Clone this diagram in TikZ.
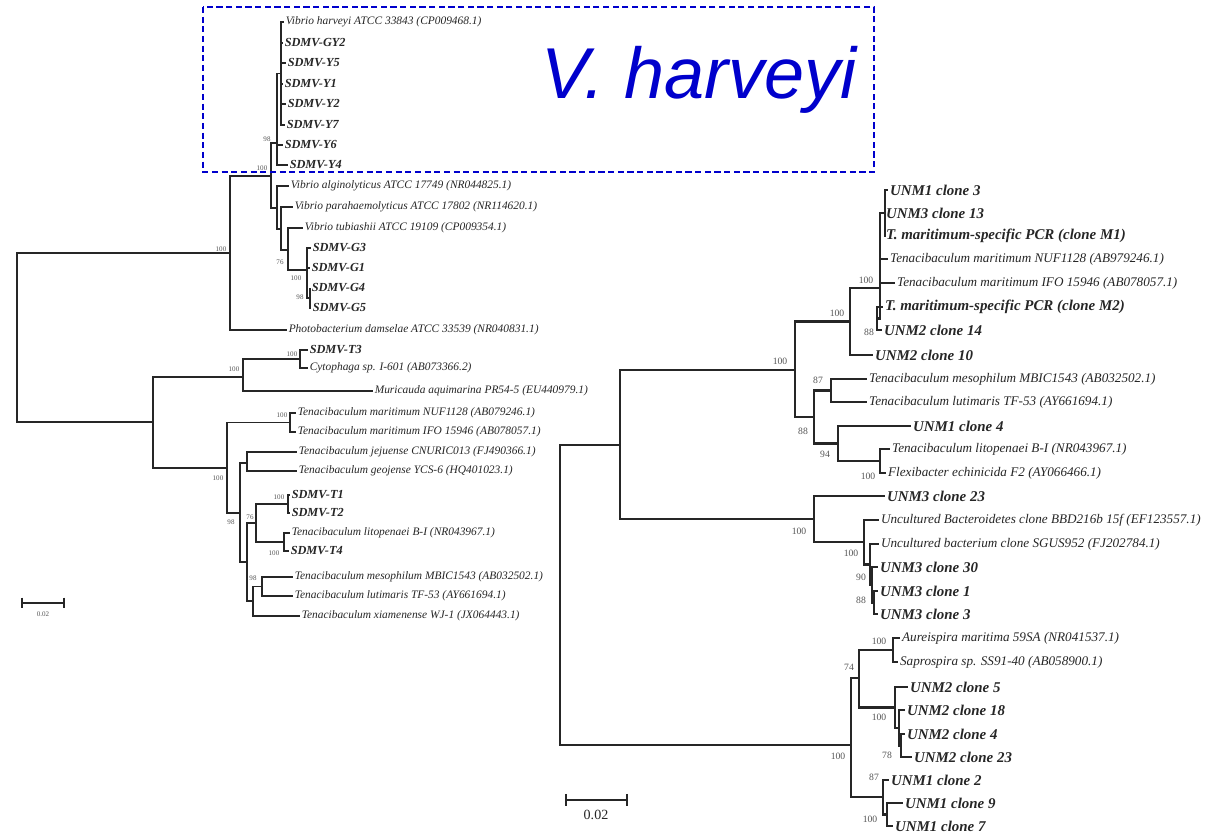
\documentclass[tikz,border=0pt]{standalone}
\usepackage{fontspec}
\setmainfont{Liberation Serif}
\newfontfamily\harvfont{Liberation Sans}
\usetikzlibrary{positioning}
\definecolor{Ink}{HTML}{262626}
\definecolor{Boot}{HTML}{555555}
\definecolor{HarvBlue}{HTML}{0000CC}

\tikzset{
  branch/.style={draw=Ink,line width=1pt},
  rbranch/.style={draw=Ink,line width=1.4pt},
  leaf/.style={anchor=west,inner sep=0.8pt,text=Ink,font=\fontsize{6.5}{7}\selectfont\itshape},
  leafb/.style={leaf,font=\fontsize{7}{8}\selectfont\bfseries\itshape},
  rleaf/.style={anchor=west,inner sep=1pt,text=Ink,font=\fontsize{7.5}{8}\selectfont\itshape},
  rleafb/.style={rleaf,font=\fontsize{8.5}{9}\selectfont\bfseries\itshape},
  boot/.style={inner sep=0pt,text=Boot,font=\fontsize{4}{4}\selectfont},
  rboot/.style={inner sep=0pt,text=Boot,font=\fontsize{5.5}{6}\selectfont},
  vbox/.style={draw=HarvBlue,line width=1.1pt,dash pattern=on 3.5pt off 2pt}
}

\begin{document}
\begin{tikzpicture}[x=0.02cm,y=-0.02cm]
  \fill[white] (0,0) rectangle (1226,835);
  \useasboundingbox (0,0) rectangle (1226,835);

  % ---- left tree: leaves
  \node[leaf]  (lh)    at (284,22)  {Vibrio harveyi ATCC 33843 (CP009468.1)};
  \node[leafb] (lgy2)  at (283,43)  {SDMV-GY2};
  \node[leafb] (ly5)   at (286,63)  {SDMV-Y5};
  \node[leafb] (ly1)   at (283,84)  {SDMV-Y1};
  \node[leafb] (ly2)   at (286,104) {SDMV-Y2};
  \node[leafb] (ly7)   at (285,125) {SDMV-Y7};
  \node[leafb] (ly6)   at (283,145) {SDMV-Y6};
  \node[leafb] (ly4)   at (288,165) {SDMV-Y4};
  \node[leaf]  (lalg)  at (289,186) {Vibrio alginolyticus ATCC 17749 (NR044825.1)};
  \node[leaf]  (lpara) at (293,207) {Vibrio parahaemolyticus ATCC 17802 (NR114620.1)};
  \node[leaf]  (ltub)  at (303,228) {Vibrio tubiashii ATCC 19109 (CP009354.1)};
  \node[leafb] (lg3)   at (311,248) {SDMV-G3};
  \node[leafb] (lg1)   at (310,268) {SDMV-G1};
  \node[leafb] (lg4)   at (310,288) {SDMV-G4};
  \node[leafb] (lg5)   at (311,308) {SDMV-G5};
  \node[leaf]  (lpho)  at (287,330) {Photobacterium damselae ATCC 33539 (NR040831.1)};
  \node[leafb] (lt3)   at (308,350) {SDMV-T3};
  \node[leaf]  (lcyt)  at (308,368) {Cytophaga sp. I-601 (AB073366.2)};
  \node[leaf]  (lmur)  at (373,391) {Muricauda aquimarina PR54-5 (EU440979.1)};
  \node[leaf]  (ltm1)  at (296,413) {Tenacibaculum maritimum NUF1128 (AB079246.1)};
  \node[leaf]  (ltm2)  at (296,432) {Tenacibaculum maritimum IFO 15946 (AB078057.1)};
  \node[leaf]  (ljej)  at (297,452) {Tenacibaculum jejuense CNURIC013 (FJ490366.1)};
  \node[leaf]  (lgeo)  at (297,471) {Tenacibaculum geojense YCS-6 (HQ401023.1)};
  \node[leafb] (lt1)   at (290,495) {SDMV-T1};
  \node[leafb] (lt2)   at (290,513) {SDMV-T2};
  \node[leaf]  (llit)  at (290,533) {Tenacibaculum litopenaei B-I (NR043967.1)};
  \node[leafb] (lt4)   at (289,551) {SDMV-T4};
  \node[leaf]  (lmes)  at (293,577) {Tenacibaculum mesophilum MBIC1543 (AB032502.1)};
  \node[leaf]  (llut)  at (293,596) {Tenacibaculum lutimaris TF-53 (AY661694.1)};
  \node[leaf]  (lxia)  at (300,616) {Tenacibaculum xiamenense WJ-1 (JX064443.1)};

  % ---- left tree: inner nodes
  \coordinate (hu)   at (281,73.5);
  \coordinate (hc)   at (277,143);
  \coordinate (vib)  at (271,176);
  \coordinate (alg)  at (277,208);
  \coordinate (para) at (281,229);
  \coordinate (tub)  at (288,250);
  \coordinate (gg)   at (307,270);
  \coordinate (g45)  at (310,298);
  \coordinate (aa)   at (230,253);
  \coordinate (lroot) at (17,337.5);
  \coordinate (cc)   at (153,422);
  \coordinate (dd)   at (243,377);
  \coordinate (ee)   at (300,359);
  \coordinate (ff)   at (227,468);
  \coordinate (gm)   at (290,422.5);
  \coordinate (hh)   at (240,513);
  \coordinate (ii)   at (247,463);
  \coordinate (kk)   at (247,562);
  \coordinate (ll)   at (256,523);
  \coordinate (mm)   at (288,504);
  \coordinate (nn)   at (284,542);
  \coordinate (oo)   at (253,601);
  \coordinate (pp)   at (262,586.5);

  \foreach \p/\c in {hu/lh,hu/lgy2,hu/ly5,hu/ly1,hu/ly2,hu/ly7,hc/ly6,hc/ly4,
      alg/lalg,para/lpara,tub/ltub,gg/lg3,gg/lg1,g45/lg4,g45/lg5,aa/lpho,
      ee/lt3,ee/lcyt,dd/lmur,gm/ltm1,gm/ltm2,ii/ljej,ii/lgeo,mm/lt1,mm/lt2,
      nn/llit,nn/lt4,pp/lmes,pp/llut,oo/lxia}
    \draw[branch] (\p) |- (\c.west);
  \foreach \p/\c in {hc/hu,vib/hc,vib/alg,alg/para,para/tub,tub/gg,gg/g45,
      aa/vib,lroot/aa,lroot/cc,cc/dd,dd/ee,cc/ff,ff/gm,ff/hh,hh/ii,hh/kk,
      kk/ll,kk/oo,ll/mm,ll/nn,oo/pp}
    \draw[branch] (\p) |- (\c);

  % bootstrap values
  \node[boot] (bl1)  at (221,249) {100};
  \node[boot] (bl2)  at (262,168) {100};
  \node[boot] (bl3)  at (267,139) {98};
  \node[boot] (bl4)  at (280,262) {76};
  \node[boot] (bl5)  at (296,278) {100};
  \node[boot] (bl6)  at (300,297) {98};
  \node[boot] (bl7)  at (234,369) {100};
  \node[boot] (bl8)  at (292,354) {100};
  \node[boot] (bl9)  at (282,415) {100};
  \node[boot] (bl10) at (218,478) {100};
  \node[boot] (bl11) at (231,522) {98};
  \node[boot] (bl12) at (250,517) {76};
  \node[boot] (bl13) at (279,497) {100};
  \node[boot] (bl14) at (274,553) {100};
  \node[boot] (bl15) at (253,578) {98};

  % scale bar
  \coordinate (lsb0) at (22,603);
  \coordinate (lsb1) at (64,603);
  \draw[branch] (lsb0) -- (lsb1);
  \draw[branch] ([yshift=3pt]lsb0) -- ([yshift=-3pt]lsb0);
  \draw[branch] ([yshift=3pt]lsb1) -- ([yshift=-3pt]lsb1);
  \node[boot] (lsbt) at (43,614) {0.02};

  % V. harveyi frame
  \draw[vbox] (203,7) rectangle (874,172);
  \node[text=HarvBlue,font=\harvfont\itshape\fontsize{41}{45}\selectfont] (harv) at (699,80) {V. harveyi};

  % ---- right tree: leaves
  \node[rleafb] (r1)  at (888,190) {UNM1 clone 3};
  \node[rleafb] (r2)  at (884,213) {UNM3 clone 13};
  \node[rleafb] (r3)  at (884,236) {T. maritimum-specific PCR (clone M1)};
  \node[rleaf]  (r4)  at (888,259) {Tenacibaculum maritimum NUF1128 (AB979246.1)};
  \node[rleaf]  (r5)  at (895,283) {Tenacibaculum maritimum IFO 15946 (AB078057.1)};
  \node[rleafb] (r6)  at (883,307) {T. maritimum-specific PCR (clone M2)};
  \node[rleafb] (r7)  at (882,330) {UNM2 clone 14};
  \node[rleafb] (r8)  at (873,355) {UNM2 clone 10};
  \node[rleaf]  (r9)  at (867,379) {Tenacibaculum mesophilum MBIC1543 (AB032502.1)};
  \node[rleaf]  (r10) at (867,402) {Tenacibaculum lutimaris TF-53 (AY661694.1)};
  \node[rleafb] (r11) at (911,426) {UNM1 clone 4};
  \node[rleaf]  (r12) at (890,449) {Tenacibaculum litopenaei B-I (NR043967.1)};
  \node[rleaf]  (r13) at (886,473) {Flexibacter echinicida F2 (AY066466.1)};
  \node[rleafb] (r14) at (885,496) {UNM3 clone 23};
  \node[rleaf]  (r15) at (879,520) {Uncultured Bacteroidetes clone BBD216b 15f (EF123557.1)};
  \node[rleaf]  (r16) at (879,544) {Uncultured bacterium clone SGUS952 (FJ202784.1)};
  \node[rleafb] (r17) at (878,567) {UNM3 clone 30};
  \node[rleafb] (r18) at (878,591) {UNM3 clone 1};
  \node[rleafb] (r19) at (878,614) {UNM3 clone 3};
  \node[rleaf]  (r20) at (900,638) {Aureispira maritima 59SA (NR041537.1)};
  \node[rleaf]  (r21) at (898,662) {Saprospira sp. SS91-40 (AB058900.1)};
  \node[rleafb] (r22) at (908,687) {UNM2 clone 5};
  \node[rleafb] (r23) at (905,710) {UNM2 clone 18};
  \node[rleafb] (r24) at (905,734) {UNM2 clone 4};
  \node[rleafb] (r25) at (912,757) {UNM2 clone 23};
  \node[rleafb] (r26) at (889,780) {UNM1 clone 2};
  \node[rleafb] (r27) at (903,803) {UNM1 clone 9};
  \node[rleafb] (r28) at (893,826) {UNM1 clone 7};

  % ---- right tree: inner nodes
  \coordinate (t1)  at (885,213);
  \coordinate (tp)  at (877,318.5);
  \coordinate (tt)  at (880,288);
  \coordinate (ss)  at (850,321.5);
  \coordinate (qq)  at (831,390.5);
  \coordinate (fo)  at (880,461);
  \coordinate (fp)  at (838,443.5);
  \coordinate (r2b) at (814,417);
  \coordinate (r2n) at (795,370);
  \coordinate (y3)  at (874,602.5);
  \coordinate (y2)  at (872,585);
  \coordinate (y1)  at (870,564.5);
  \coordinate (bv)  at (864,542);
  \coordinate (bu)  at (814,519);
  \coordinate (r1n) at (620,445);
  \coordinate (as)  at (893,650);
  \coordinate (u2c) at (901,745.5);
  \coordinate (u2b) at (899,728);
  \coordinate (u2)  at (895,707.5);
  \coordinate (z1)  at (859,678);
  \coordinate (z2b) at (887,814.5);
  \coordinate (z2)  at (883,797);
  \coordinate (zz)  at (851,745);
  \coordinate (rroot) at (560,595);

  \foreach \p/\c in {t1/r1,t1/r2,t1/r3,tt/r4,tt/r5,tp/r6,tp/r7,ss/r8,qq/r9,qq/r10,
      fp/r11,fo/r12,fo/r13,bu/r14,bv/r15,y1/r16,y2/r17,y3/r18,y3/r19,
      as/r20,as/r21,u2/r22,u2b/r23,u2c/r24,u2c/r25,z2/r26,z2b/r27,z2b/r28}
    \draw[rbranch] (\p) |- (\c.west);
  \foreach \p/\c in {tt/t1,tt/tp,ss/tt,r2n/ss,r2n/r2b,r2b/qq,r2b/fp,fp/fo,
      r1n/r2n,r1n/bu,bu/bv,bv/y1,y1/y2,y2/y3,rroot/r1n,rroot/zz,
      zz/z1,zz/z2,z1/as,z1/u2,u2/u2b,u2b/u2c,z2/z2b}
    \draw[rbranch] (\p) |- (\c);

  % bootstrap values
  \node[rboot] (br1)  at (780,361) {100};
  \node[rboot] (br2)  at (837,313) {100};
  \node[rboot] (br3)  at (866,280) {100};
  \node[rboot] (br4)  at (869,332) {88};
  \node[rboot] (br5)  at (818,380) {87};
  \node[rboot] (br6)  at (803,431) {88};
  \node[rboot] (br7)  at (825,454) {94};
  \node[rboot] (br8)  at (868,476) {100};
  \node[rboot] (br9)  at (799,531) {100};
  \node[rboot] (br10) at (851,553) {100};
  \node[rboot] (br11) at (861,577) {90};
  \node[rboot] (br12) at (861,600) {88};
  \node[rboot] (br13) at (838,756) {100};
  \node[rboot] (br14) at (849,667) {74};
  \node[rboot] (br15) at (879,641) {100};
  \node[rboot] (br16) at (879,717) {100};
  \node[rboot] (br17) at (887,755) {78};
  \node[rboot] (br18) at (874,777) {87};
  \node[rboot] (br19) at (870,819) {100};

  % scale bar
  \coordinate (rsb0) at (566,800);
  \coordinate (rsb1) at (627,800);
  \draw[branch] (rsb0) -- (rsb1);
  \draw[branch] ([yshift=3.5pt]rsb0) -- ([yshift=-3.5pt]rsb0);
  \draw[branch] ([yshift=3.5pt]rsb1) -- ([yshift=-3.5pt]rsb1);
  \node[text=Ink,font=\fontsize{8}{9}\selectfont] (rsbt) at (596,815) {0.02};
\end{tikzpicture}
\end{document}
